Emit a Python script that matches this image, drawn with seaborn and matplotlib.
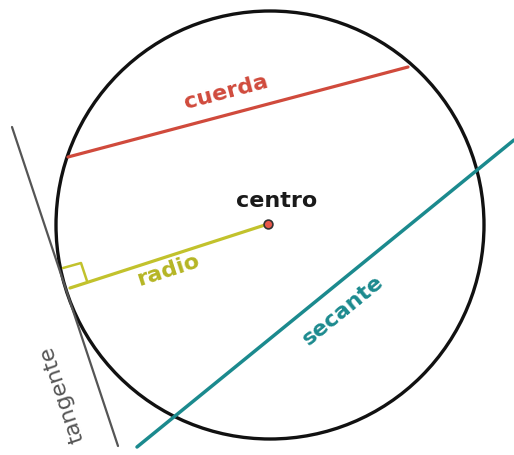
import matplotlib
matplotlib.use("Agg")
import matplotlib.pyplot as plt
import seaborn as sns
import pandas as pd
from matplotlib.patches import Circle

sns.set_theme(style="white")
plt.rcParams['font.family'] = ['DejaVu Sans']

# geometry in pixel coordinates of the picture
circle_center = (270, 225)
circle_radius = 214
center_point = (268, 224)

segments = {
    "cuerda":   [(68, 157), (408, 67)],
    "radio":    [(268, 224), (70, 288)],
    "tangente": [(12, 127), (118, 446)],
    "secante":  [(137, 447), (514, 140)],
    "angulo":   [(63, 268), (81, 263), (87, 281)],
}
colors = {
    "cuerda": "#d04a3c",
    "radio": "#c2c22c",
    "tangente": "#555555",
    "secante": "#1b8a8e",
    "angulo": "#c2c22c",
}
widths = {"cuerda": 2.3, "radio": 2.3, "tangente": 1.6, "secante": 2.5, "angulo": 1.8}

labels = [
    ("cuerda", 226, 92, 14.8, "#d04a3c", "bold"),
    ("centro", 277, 201, 0, "#1a1a1a", "bold"),
    ("radio", 168, 270, 17.9, "#b5b523", "bold"),
    ("secante", 343, 310, 39.2, "#1b8a8e", "bold"),
    ("tangente", 62, 394, 108.4, "#555555", "normal"),
]

fig = plt.figure(figsize=(5.14, 4.55), dpi=100)
ax = fig.add_axes([0, 0, 1, 1])

ax.add_patch(Circle(circle_center, circle_radius, fill=False, ec="#111111", lw=2.4))

for name, pts in segments.items():
    df = pd.DataFrame(pts, columns=["x", "y"])
    sns.lineplot(data=df, x="x", y="y", sort=False, ax=ax, color=colors[name],
                 lw=widths[name], estimator=None)

dfc = pd.DataFrame([center_point], columns=["x", "y"])
sns.scatterplot(data=dfc, x="x", y="y", ax=ax, s=40, color="#e8574a",
                edgecolor="#333333", linewidth=1.2, zorder=5)

for txt, x, y, rot, c, w in labels:
    ax.text(x, y, txt, rotation=rot, color=c, fontsize=16, fontweight=w,
            ha="center", va="center", rotation_mode="anchor")

ax.set_xlim(0, 514)
ax.set_ylim(455, 0)
ax.set_axis_off()
fig.savefig("out.png", dpi=100)
